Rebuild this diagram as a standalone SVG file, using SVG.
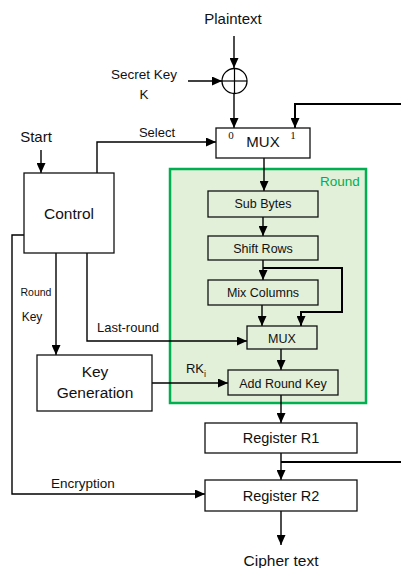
<svg xmlns="http://www.w3.org/2000/svg" width="401" height="568" viewBox="0 0 401 568">
<style>
text{font-family:"Liberation Sans",Arial,sans-serif;fill:#111;text-anchor:middle}
.box{fill:#fff;stroke:#111;stroke-width:1.3}
.gbox{fill:#e2efd9;stroke:#111;stroke-width:1.3}
.ln{fill:none;stroke:#000;stroke-width:1.4}
.th{fill:none;stroke:#000;stroke-width:2}
.num{font-family:"Liberation Serif","Times New Roman",serif;font-size:11px}
</style>
<defs>
<marker id="ah" markerUnits="userSpaceOnUse" markerWidth="10" markerHeight="9" refX="10" refY="4.5" orient="auto">
<path d="M0,0 L10,4.5 L0,9 z" fill="#000"/>
</marker>
</defs>
<rect width="401" height="568" fill="#fff"/>
<g id="round-frame">
<rect x="170" y="169" width="196" height="234" fill="#e2efd9" stroke="#00b050" stroke-width="2.5"/>
<text x="340" y="186" style="font-size:13.5px;fill:#00b050">Round</text>
</g>
<g id="connectors">
<line class="ln" x1="234" y1="36" x2="234" y2="68" marker-end="url(#ah)"/>
<line class="ln" x1="188" y1="81" x2="222" y2="81" marker-end="url(#ah)"/>
<line class="ln" x1="234" y1="94" x2="234" y2="128" marker-end="url(#ah)"/>
<polyline class="th" points="401,104 295,104 295,128" marker-end="url(#ah)"/>
<polyline class="ln" points="97,173 97,142 216,142" marker-end="url(#ah)"/>
<line class="ln" x1="41" y1="150" x2="41" y2="173" marker-end="url(#ah)"/>
<line class="ln" x1="264" y1="158" x2="264" y2="191" marker-end="url(#ah)"/>
<line class="ln" x1="263" y1="217" x2="263" y2="236" marker-end="url(#ah)"/>
<line class="ln" x1="263" y1="260" x2="263" y2="280" marker-end="url(#ah)"/>
<polyline class="th" points="263,268 342,268 342,312 301,312 301,326" marker-end="url(#ah)"/>
<line class="ln" x1="262" y1="305" x2="262" y2="326" marker-end="url(#ah)"/>
<line class="ln" x1="281" y1="349" x2="281" y2="370" marker-end="url(#ah)"/>
<line class="ln" x1="281" y1="395" x2="281" y2="423" marker-end="url(#ah)"/>
<line class="ln" x1="281" y1="453" x2="281" y2="480" marker-end="url(#ah)"/>
<line class="th" x1="281" y1="462" x2="401" y2="462"/>
<line class="ln" x1="281" y1="511" x2="281" y2="545" marker-end="url(#ah)"/>
<line class="ln" x1="56" y1="253" x2="56" y2="355" marker-end="url(#ah)"/>
<polyline class="ln" points="87,253 87,341 247,341" marker-end="url(#ah)"/>
<line class="ln" x1="152" y1="383" x2="228" y2="383" marker-end="url(#ah)"/>
<polyline class="ln" points="24,235 12,235 12,494 205,494" marker-end="url(#ah)"/>
<text x="157" y="137" style="font-size:13px">Select</text>
<text x="36" y="296" style="font-size:10.5px">Round</text>
<text x="32" y="321" style="font-size:12px">Key</text>
<text x="128" y="332" style="font-size:13px">Last-round</text>
<text x="195" y="373" style="font-size:13px">RK</text>
<text x="204" y="377" style="font-size:9px;text-anchor:start">i</text>
<text x="83" y="488" style="font-size:13.5px">Encryption</text>
</g>
<g id="plaintext"><text x="233" y="24" style="font-size:15px">Plaintext</text></g>
<g id="secret-key"><text x="144" y="79" style="font-size:13.5px">Secret Key</text><text x="144" y="99" style="font-size:13.5px">K</text></g>
<g id="xor">
<circle cx="234.5" cy="81" r="12.5" fill="#fff" stroke="#000" stroke-width="1.3"/>
<line x1="222" y1="81" x2="247" y2="81" stroke="#000" stroke-width="1.2"/>
<line x1="234.5" y1="68.5" x2="234.5" y2="93.5" stroke="#000" stroke-width="1.2"/>
</g>
<g id="mux-top">
<rect class="box" x="216" y="128" width="94" height="30"/>
<text x="263" y="147" style="font-size:15px">MUX</text>
<text class="num" x="231" y="139">0</text>
<text class="num" x="293" y="139">1</text>
</g>
<g id="start"><text x="36" y="142" style="font-size:15px">Start</text></g>
<g id="control">
<rect class="box" x="24" y="173" width="90" height="80"/>
<text x="69" y="219" style="font-size:15.5px">Control</text>
</g>
<g id="sub-bytes"><rect class="gbox" x="208" y="191" width="110" height="26"/><text x="263" y="208" style="font-size:12.5px">Sub Bytes</text></g>
<g id="shift-rows"><rect class="gbox" x="208" y="236" width="110" height="24"/><text x="263" y="253" style="font-size:12.5px">Shift Rows</text></g>
<g id="mix-columns"><rect class="gbox" x="208" y="280" width="110" height="25"/><text x="263" y="297" style="font-size:12.5px">Mix Columns</text></g>
<g id="mux-inner"><rect class="gbox" x="247" y="326" width="70" height="23"/><text x="282" y="343" style="font-size:12.5px">MUX</text></g>
<g id="add-round-key"><rect class="gbox" x="228" y="370" width="110" height="25"/><text x="283" y="388" style="font-size:12.5px">Add Round Key</text></g>
<g id="key-generation">
<rect class="box" x="37" y="355" width="115" height="56"/>
<text x="95" y="377" style="font-size:15.5px">Key</text>
<text x="95" y="398" style="font-size:15.5px">Generation</text>
</g>
<g id="register-r1"><rect class="box" x="205" y="423" width="152" height="30"/><text x="281" y="443" style="font-size:14.5px">Register R1</text></g>
<g id="register-r2"><rect class="box" x="205" y="480" width="152" height="31"/><text x="281" y="501" style="font-size:14.5px">Register R2</text></g>
<g id="ciphertext"><text x="281" y="566" style="font-size:15.5px">Cipher text</text></g>
</svg>
